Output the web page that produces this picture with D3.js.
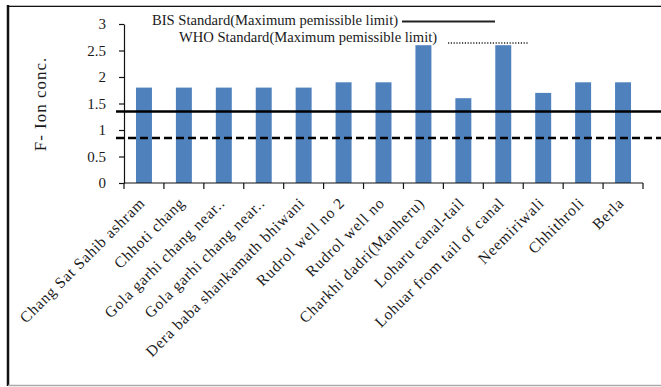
<!DOCTYPE html>
<html>
<head>
<meta charset="utf-8">
<script src="https://cdn.jsdelivr.net/npm/d3@7"></script>
<style>
  html, body { margin: 0; padding: 0; background: #fff; }
  svg { display: block; }
  text { font-family: "Liberation Serif", "Times New Roman", serif; fill: #1a1a1a; }
</style>
</head>
<body>
<svg id="chart" width="661" height="387"></svg>
<script>
const categories = [
  "Chang Sat Sahib ashram", "Chhoti chang", "Gola garhi chang near..", "Gola garhi chang near..",
  "Dera baba shankamath bhiwani", "Rudrol well  no 2", "Rudrol well  no", "Charkhi dadri(Manheru)",
  "Loharu canal-tail", "Lohuar from tail of canal", "Neemiriwali", "Chhithroli", "Berla"
];
const values = [1.8, 1.8, 1.8, 1.8, 1.8, 1.9, 1.9, 2.6, 1.6, 2.6, 1.7, 1.9, 1.9];
const yTicks = [0, 0.5, 1, 1.5, 2, 2.5, 3];
const standardNames = ["BIS Standard(Maximum pemissible limit)", "WHO Standard(Maximum pemissible limit)"];
const standardLevels = [1.35, 0.85];
const yLabel = "F- Ion conc.";

const svg = d3.select("#chart");

// outer frame
svg.append("line").attr("x1", 8).attr("x2", 661).attr("y1", 5.5).attr("y2", 5.5)
  .attr("stroke", "#bbb").attr("stroke-width", 1);
svg.append("line").attr("x1", 8).attr("x2", 661).attr("y1", 6.5).attr("y2", 6.5)
  .attr("stroke", "#111").attr("stroke-width", 1.2);
svg.append("line").attr("x1", 8).attr("x2", 8).attr("y1", 5).attr("y2", 386)
  .attr("stroke", "#111").attr("stroke-width", 2.5);
svg.append("line").attr("x1", 8).attr("x2", 661).attr("y1", 385.5).attr("y2", 385.5)
  .attr("stroke", "#aaa").attr("stroke-width", 1.5);

const x = d3.scaleBand().domain(d3.range(categories.length))
  .range([124, 643]).paddingInner(0.6).paddingOuter(0.3);
const y = d3.scaleLinear().domain([0, 3]).range([183, 24]);
const step = x.step();

// bars
svg.append("g").selectAll("rect").data(values).join("rect")
  .attr("x", (d, i) => x(i))
  .attr("width", x.bandwidth())
  .attr("y", d => y(d))
  .attr("height", d => y(0) - y(d))
  .attr("fill", "#4f81bd");

// y axis
const yAxis = d3.axisLeft(y).tickValues(yTicks).tickSize(5).tickSizeOuter(0).tickPadding(13)
  .tickFormat(d3.format("~g"));
const gy = svg.append("g").attr("transform", "translate(124,0)").call(yAxis);
gy.select(".domain").attr("stroke", "#111").attr("stroke-width", 1.2);
gy.selectAll(".tick line").attr("stroke", "#111").attr("stroke-width", 1.2);
gy.selectAll(".tick text").style("font-family", "Liberation Serif, serif").style("font-size", "15px").attr("fill", "#1a1a1a");

// x axis
const xAxisG = svg.append("g");
xAxisG.append("line").attr("x1", 124).attr("x2", 643).attr("y1", y(0)).attr("y2", y(0))
  .attr("stroke", "#111").attr("stroke-width", 1.2);
xAxisG.selectAll("line.tk").data(d3.range(categories.length + 1)).join("line")
  .attr("class", "tk")
  .attr("x1", i => x.range()[0] + i * step).attr("x2", i => x.range()[0] + i * step)
  .attr("y1", y(0)).attr("y2", y(0) + 6)
  .attr("stroke", "#111").attr("stroke-width", 1.2);
xAxisG.selectAll("text").data(categories).join("text")
  .attr("transform", (d, i) => `translate(${x(i) + x.bandwidth() / 2 + 2},${y(0) + 21}) rotate(-45)`)
  .attr("text-anchor", "end")
  .style("font-size", "15.5px")
  .style("letter-spacing", "0.8px")
  .text(d => d);

// standard lines
svg.append("line").attr("x1", 116).attr("x2", 661)
  .attr("y1", y(standardLevels[0])).attr("y2", y(standardLevels[0]))
  .attr("stroke", "#000").attr("stroke-width", 2.6);
svg.append("line").attr("x1", 116).attr("x2", 661)
  .attr("y1", y(standardLevels[1])).attr("y2", y(standardLevels[1]))
  .attr("stroke", "#000").attr("stroke-width", 2.4).attr("stroke-dasharray", "8,4");

// legend
svg.append("text").attr("x", 152).attr("y", 25).style("font-size", "14.6px").text(standardNames[0]);
svg.append("line").attr("x1", 402).attr("x2", 495).attr("y1", 21.5).attr("y2", 21.5)
  .attr("stroke", "#222").attr("stroke-width", 2);
svg.append("text").attr("x", 179).attr("y", 42).style("font-size", "14.6px").text(standardNames[1]);
svg.append("line").attr("x1", 448).attr("x2", 529).attr("y1", 43).attr("y2", 43)
  .attr("stroke", "#222").attr("stroke-width", 1.5).attr("stroke-dasharray", "1.2,1.6");

// y label
svg.append("text").attr("transform", "translate(46,104) rotate(-90)")
  .attr("text-anchor", "middle").style("font-size", "17px").style("letter-spacing", "1px").text(yLabel);
</script>
</body>
</html>
